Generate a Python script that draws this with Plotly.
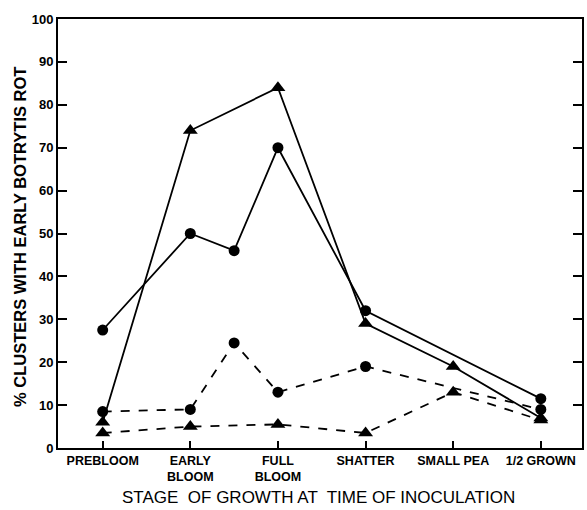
import plotly.graph_objects as go

# x positions: stages 0..5, plus an intermediate time between EARLY BLOOM and FULL BLOOM
x_pos = [0, 1, 1.5, 2, 3, 4, 5]
stage_pos = [0, 1, 2, 3, 4, 5]
stage_labels = ["PREBLOOM", "EARLY<br>BLOOM", "FULL<br>BLOOM", "SHATTER", "SMALL PEA", "1/2 GROWN"]

tri_solid = [6, 74, None, 84, 29, 19, 7]
circ_solid = [27.5, 50, 46, 70, 32, None, 11.5]
circ_dash = [8.5, 9, 24.5, 13, 19, None, 9]
tri_dash = [3.5, 5, None, 5.5, 3.5, 13, 6.5]

y_ticks = [0, 10, 20, 30, 40, 50, 60, 70, 80, 90, 100]

x_title = "STAGE  OF GROWTH AT  TIME OF INOCULATION"
y_title = "% CLUSTERS WITH EARLY BOTRYTIS ROT"

series = [
    (tri_solid, "triangle-up", "solid", 13),
    (circ_solid, "circle", "solid", 11),
    (circ_dash, "circle", "dash", 11),
    (tri_dash, "triangle-up", "dash", 13),
]

fig = go.Figure()
for ys, sym, dash, sz in series:
    fig.add_trace(go.Scatter(
        x=x_pos, y=ys, mode="lines+markers", connectgaps=True,
        line=dict(color="black", width=1.8, dash=dash),
        marker=dict(symbol=sym, size=sz, color="black"),
        showlegend=False,
    ))

font_family = "Liberation Sans, Arial, sans-serif"

W, H = 587, 510
L, R, T, B = 58, 5, 19, 62

fig.update_layout(
    width=W, height=H,
    margin=dict(l=L, r=R, t=T, b=B),
    paper_bgcolor="white", plot_bgcolor="white",
    font=dict(family=font_family, color="black"),
)
fig.update_xaxes(
    range=[-0.51, 5.47], automargin=False,
    tickvals=stage_pos, ticktext=stage_labels,
    ticks="inside", ticklen=7, tickwidth=1.5, tickcolor="black",
    showline=True, linecolor="black", linewidth=2, mirror=True,
    showgrid=False, zeroline=False,
    tickfont=dict(size=12.5, family=font_family, weight="bold"),
)
fig.update_yaxes(
    range=[0, 100], automargin=False,
    tickvals=y_ticks,
    ticks="inside", ticklen=9, tickwidth=1.5, tickcolor="black",
    showline=True, linecolor="black", linewidth=2, mirror="allticks",
    showgrid=False, zeroline=False,
    tickfont=dict(size=13, family=font_family, weight="bold"),
)

fig.add_annotation(
    text=x_title, xref="paper", yref="paper",
    x=(318 - L) / (W - L - R), y=-(497 - (H - B)) / (H - T - B),
    xanchor="center", yanchor="middle", showarrow=False,
    font=dict(size=17, family=font_family),
)
fig.add_annotation(
    text=y_title, xref="paper", yref="paper",
    x=-(L - 20) / (W - L - R), y=((H - B) - 237) / (H - T - B),
    xanchor="center", yanchor="middle", showarrow=False, textangle=-90,
    font=dict(size=16.5, family=font_family, weight="bold"),
)

fig.write_html("out.html", post_script="document.body.style.margin='0';",
               config={"displayModeBar": False})
